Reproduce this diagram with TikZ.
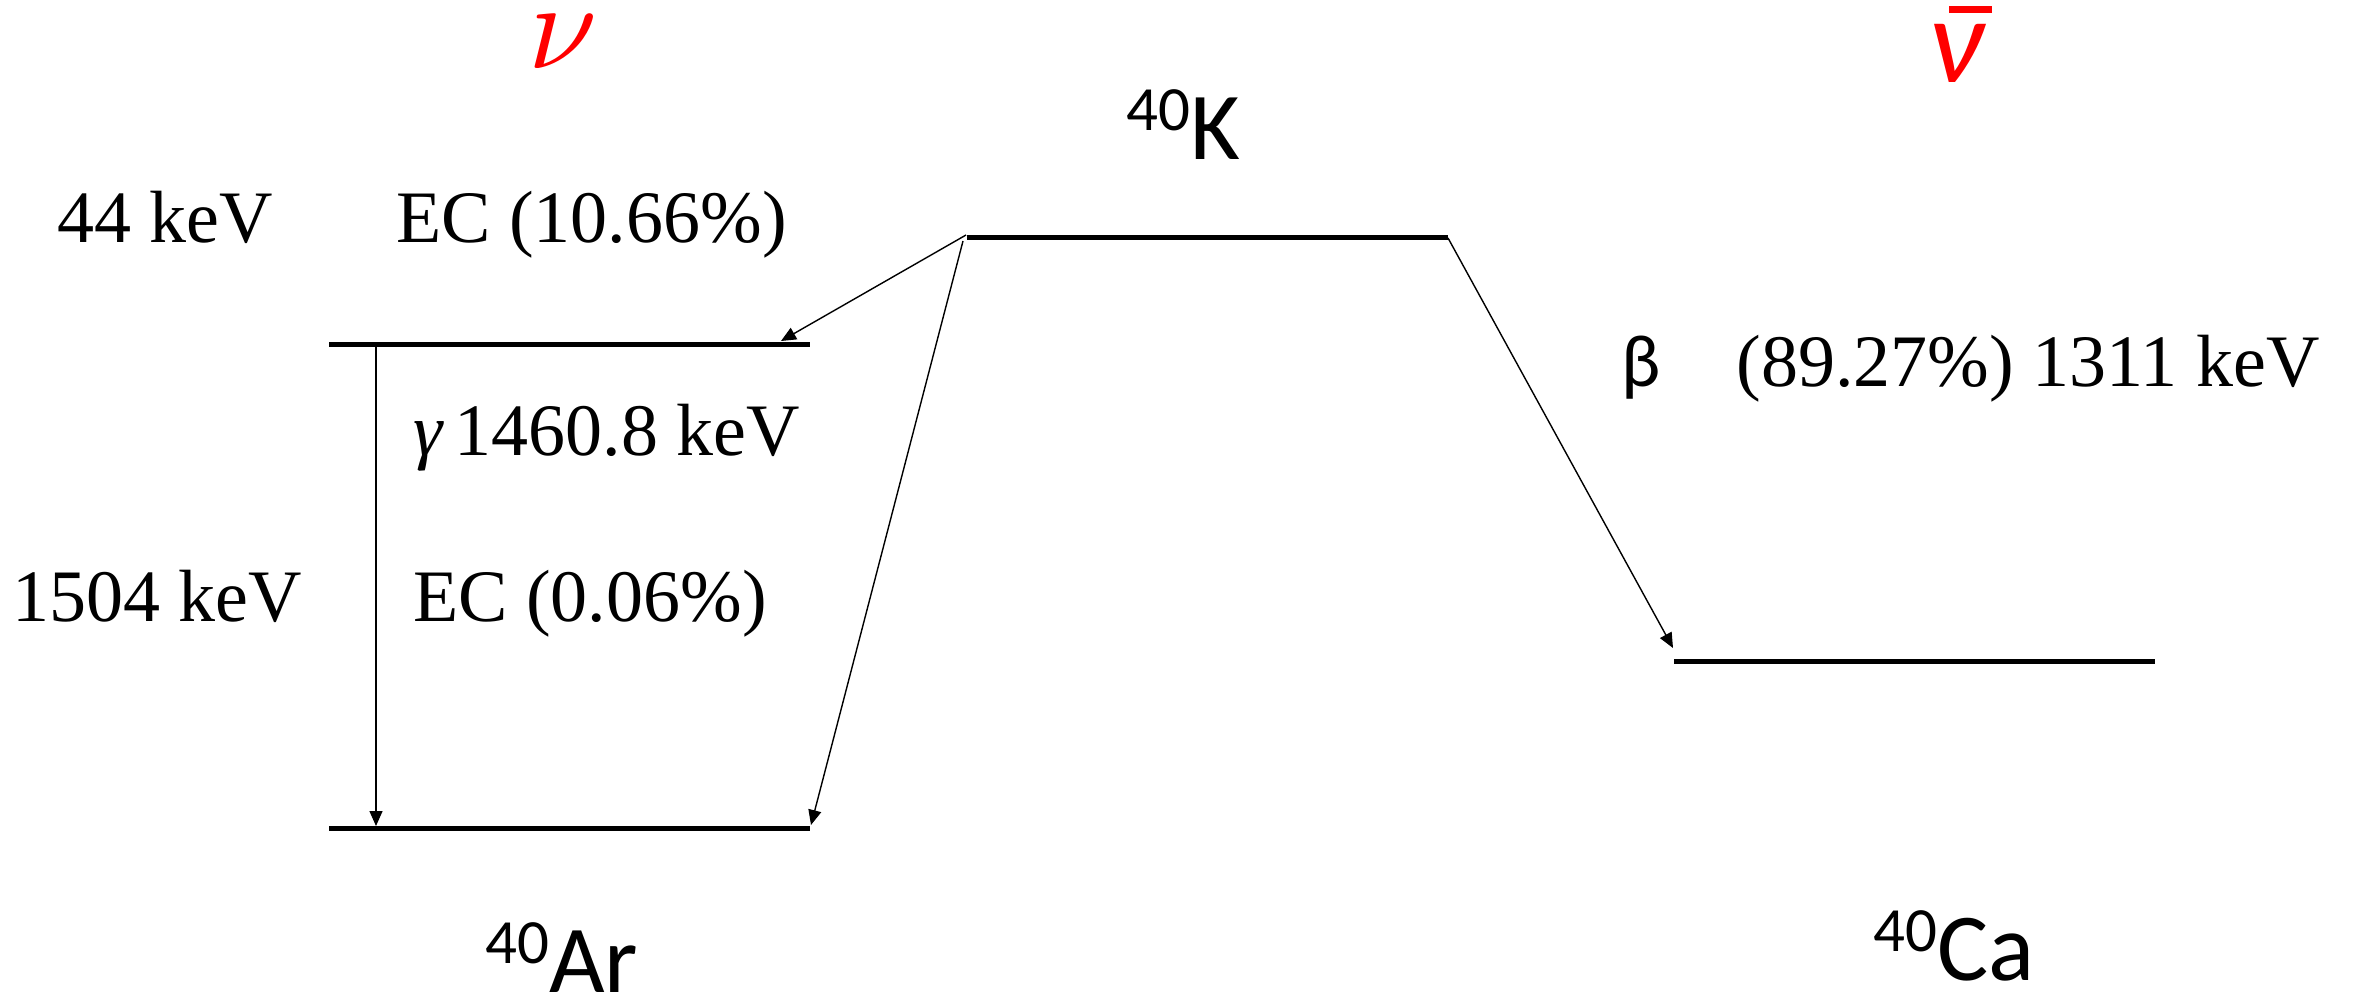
\documentclass[tikz,border=0pt]{standalone}
\usepackage{fontspec}
\usepackage{graphicx}
\setmainfont{Liberation Serif}
\newfontfamily\calib{Carlito}
\usetikzlibrary{arrows.meta}
\tikzset{
  level/.style={line width=5pt},
  arr/.style={line width=1.4pt,-{Triangle[length=15pt,width=13pt]}},
  lbl/.style={inner sep=0pt,anchor=base west,font=\fontsize{74}{80}\selectfont},
  iso/.style={inner sep=0pt,anchor=base west,font=\calib\fontsize{96}{100}\selectfont},
  redsym/.style={inner sep=0pt,anchor=base west,text=red}
}
\newcommand{\isosup}[1]{\raisebox{29pt}{\fontsize{63}{63}\selectfont #1}}
\newcommand{\bignu}{\scalebox{12.4}{\fontencoding{OML}\fontfamily{lmm}\fontseries{bx}\fontshape{it}\fontsize{10}{12}\selectfont\char23}}
\newcommand{\bigbar}{\calib\fontsize{122}{126}\selectfont\itshape}
\begin{document}
\begin{tikzpicture}[x=1pt,y=-1pt]
\useasboundingbox (0,0) rectangle (2353,996);
% level coordinates
\coordinate (K1) at (967,237);
\coordinate (K2) at (1448,237);
\coordinate (AU1) at (329,344);
\coordinate (AU2) at (810,344);
\coordinate (AG1) at (329,828);
\coordinate (AG2) at (810,828);
\coordinate (C1) at (1674,661);
\coordinate (C2) at (2155,661);
% arrow ends
\coordinate (ecAs) at (966,235);
\coordinate (ecAe) at (781,341);
\coordinate (ecBs) at (963,241);
\coordinate (ecBe) at (811,825);
\coordinate (gs) at (376,347);
\coordinate (ge) at (376,826);
\coordinate (bs) at (1448,238);
\coordinate (be) at (1673,648);
% levels
\draw[level] (K1) -- (K2);
\draw[level] (AU1) -- (AU2);
\draw[level] (AG1) -- (AG2);
\draw[level] (C1) -- (C2);
% transitions
\draw[arr] (ecAs) -- (ecAe);
\draw[arr] (ecBs) -- (ecBe);
\draw[arr] (gs) -- (ge);
\draw[arr] (bs) -- (be);
% labels
\node[redsym] (nuL) at (528,68) {\bignu};
\node[redsym] (anuL) at (1928,82) {\bigbar\rlap{\hspace{21pt}\raisebox{69pt}{\rule{43pt}{7pt}}}ν};
\node[iso] (k) at (1126,159) {\isosup{40}K};
\node[iso] (ar) at (485,992) {\isosup{40}Ar};
\node[iso] (ca) at (1873,980) {\isosup{40}Ca};
\node[lbl] (e44) at (57,242) {44 keV};
\node[lbl] (ec1) at (396,242) {EC (10.66\%)};
\node[lbl] (beta) at (1621,386) {{\calib β}\hspace{76pt}(89.27\%) 1311 keV};
\node[lbl] (gam) at (413,455) {{\itshape γ}\,1460.8 keV};
\node[lbl] (ec2) at (413,621) {EC (0.06\%)};
\node[lbl] (e1504) at (12,621) {1504 keV};
\end{tikzpicture}
\end{document}
